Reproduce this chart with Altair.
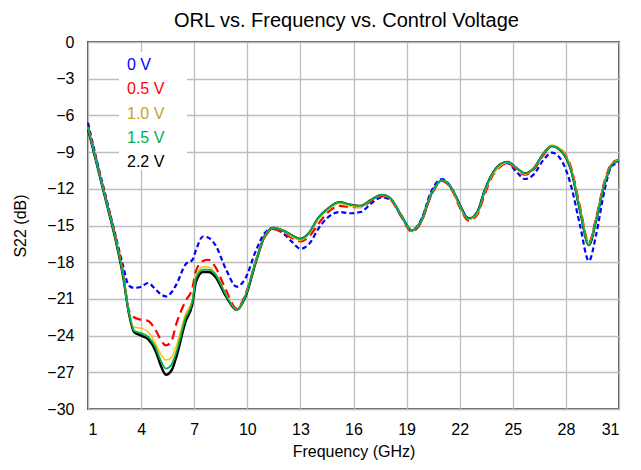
import altair as alt
import pandas as pd

FREQ = [1.0, 1.5, 2.0, 2.5, 3.0, 3.3, 3.6, 4.0, 4.4, 4.8, 5.1, 5.4, 5.7, 6.0, 6.5, 6.9,
        7.1, 7.5, 7.8, 8.2, 8.8, 9.4, 9.9, 10.5, 11.0, 11.5, 12.0, 12.5, 13.0, 13.5,
        14.0, 14.5, 15.2, 15.8, 16.4, 17.0, 17.6, 18.1, 18.7, 19.3, 19.8, 20.4, 21.0,
        21.6, 22.0, 22.5, 23.0, 23.4, 23.8, 24.3, 24.7, 25.2, 25.7, 26.2, 26.7, 27.2,
        27.8, 28.3, 28.8, 29.3, 29.7, 30.2, 30.6, 31.0]

S22_0V = [-6.6, -9.7, -12.6, -15.5, -18.4, -19.9, -20.1, -20.0, -19.7, -20.2, -20.6, -20.8,
          -20.5, -19.8, -18.2, -17.8, -17.0, -15.9, -16.0, -16.6, -18.6, -20.0, -19.3, -17.0,
          -15.6, -15.2, -15.6, -16.3, -16.9, -16.5, -15.3, -14.4, -13.9, -14.0, -13.9, -13.2,
          -12.7, -12.9, -14.2, -15.4, -14.6, -12.2, -11.2, -12.1, -13.3, -14.4, -13.9, -12.2,
          -10.9, -10.1, -9.9, -10.6, -11.2, -10.8, -9.7, -9.05, -9.8, -11.8, -15.0, -17.9,
          -15.8, -12.0, -10.1, -9.9]

S22_05V = [-6.9, -9.8, -12.7, -15.6, -19.0, -21.9, -22.5, -22.7, -22.8, -23.5, -24.3, -24.8,
           -24.5, -23.0, -21.2, -20.1, -18.7, -17.9, -17.8, -18.4, -20.3, -21.8, -20.6, -17.8,
           -15.9, -15.3, -15.6, -16.0, -16.3, -15.9, -14.9, -14.0, -13.4, -13.5, -13.5, -13.0,
           -12.6, -12.9, -14.3, -15.5, -14.8, -12.5, -11.35, -12.2, -13.5, -14.6, -14.1, -12.5,
           -11.1, -10.2, -9.9, -10.4, -10.85, -10.4, -9.3, -8.5, -8.9, -10.3, -13.5, -16.4,
           -14.4, -11.3, -9.9, -9.6]

S22_10V = [-7.0, -9.9, -12.8, -15.7, -19.1, -22.0, -23.3, -23.4, -23.7, -24.6, -25.5, -26.0,
           -25.8, -24.8, -22.3, -21.0, -19.1, -18.4, -18.4, -18.9, -20.6, -21.9, -20.7, -17.8,
           -15.8, -15.2, -15.4, -15.9, -16.2, -15.7, -14.5, -13.8, -13.2, -13.4, -13.5, -12.9,
           -12.5, -12.8, -14.2, -15.4, -14.7, -12.4, -11.3, -12.1, -13.4, -14.5, -14.0, -12.3,
           -11.0, -10.1, -9.85, -10.3, -10.8, -10.3, -9.2, -8.45, -8.9, -10.4, -13.6, -16.5,
           -14.5, -11.4, -9.95, -9.65]

S22_15V = [-7.0, -9.9, -12.8, -15.7, -19.2, -22.0, -23.6, -23.8, -24.1, -24.9, -26.0, -26.7,
           -26.4, -25.3, -22.6, -21.2, -19.3, -18.6, -18.6, -19.0, -20.7, -21.9, -20.7, -17.8,
           -15.8, -15.2, -15.4, -15.8, -16.1, -15.6, -14.4, -13.7, -13.1, -13.3, -13.4, -12.9,
           -12.5, -12.8, -14.2, -15.4, -14.7, -12.4, -11.3, -12.1, -13.3, -14.45, -13.9, -12.2,
           -10.9, -10.0, -9.8, -10.3, -10.75, -10.3, -9.2, -8.5, -9.0, -10.5, -13.8, -16.6,
           -14.6, -11.5, -10.0, -9.7]

S22_22V = [-7.1, -10.0, -12.9, -15.8, -19.3, -22.1, -23.7, -24.0, -24.3, -25.2, -26.4, -27.2,
           -26.9, -25.7, -22.9, -21.4, -19.6, -18.8, -18.8, -19.2, -20.8, -21.9, -20.8, -17.9,
           -15.8, -15.2, -15.4, -15.8, -16.1, -15.6, -14.4, -13.7, -13.1, -13.3, -13.4, -12.9,
           -12.5, -12.8, -14.2, -15.4, -14.7, -12.4, -11.3, -12.1, -13.3, -14.45, -13.9, -12.2,
           -10.9, -10.0, -9.8, -10.3, -10.75, -10.3, -9.2, -8.5, -9.0, -10.5, -13.8, -16.6,
           -14.6, -11.5, -10.0, -9.7]

SERIES = ["0 V", "0.5 V", "1.0 V", "1.5 V", "2.2 V"]
LINE_COLORS = ["#0000FF", "#FF0000", "#FFC000", "#00B050", "#000000"]
TEXT_COLORS = ["#0000FF", "#FF0000", "#C9A227", "#00B050", "#000000"]
X_TICKS = [1, 4, 7, 10, 13, 16, 19, 22, 25, 28, 31]
Y_TICKS = [-30, -27, -24, -21, -18, -15, -12, -9, -6, -3, 0]

values = {"0 V": S22_0V, "0.5 V": S22_05V, "1.0 V": S22_10V, "1.5 V": S22_15V, "2.2 V": S22_22V}
rows = []
for s in SERIES:
    for f, v in zip(FREQ, values[s]):
        rows.append({"freq": f, "s22": v, "series": s})
df = pd.DataFrame(rows)

FONT = "Liberation Sans"
AX = dict(labelFont=FONT, titleFont=FONT, labelFontSize=16,
          labelColor="#000000", titleColor="#000000", titleFontWeight="normal",
          gridColor="#BDBDBD", gridWidth=1.3, gridOpacity=1,
          grid=True, ticks=False, domain=False, format="d")

xenc = alt.X("freq:Q", scale=alt.Scale(domain=[1, 31], nice=False, zero=False),
             axis=alt.Axis(values=X_TICKS, title="Frequency (GHz)", labelPadding=12,
                           titlePadding=6, titleFontSize=16, **AX))
yenc = alt.Y("s22:Q", scale=alt.Scale(domain=[-30, 0], nice=False, zero=False),
             axis=alt.Axis(values=Y_TICKS, title="S22 (dB)", labelPadding=14,
                           titlePadding=18, titleFontSize=16, **AX))

styles = {
    "0 V": dict(strokeDash=[5, 3], strokeWidth=2.2),
    "0.5 V": dict(strokeDash=[9, 5], strokeWidth=2.2),
    "1.0 V": dict(strokeWidth=1.5),
    "1.5 V": dict(strokeWidth=1.8),
    "2.2 V": dict(strokeWidth=2.4),
}
order = ["2.2 V", "0 V", "0.5 V", "1.0 V", "1.5 V"]
layers = []
for s in order:
    c = LINE_COLORS[SERIES.index(s)]
    layers.append(
        alt.Chart(df).transform_filter(alt.datum.series == s)
        .mark_line(color=c, interpolate="monotone", **styles[s])
        .encode(x=xenc, y=yenc)
    )
lines = alt.layer(*layers)

box = alt.Chart(pd.DataFrame({"a": [0]})).mark_rect(fill="white").encode(
    x=alt.value(31), x2=alt.value(99), y=alt.value(10), y2=alt.value(128))

leg_df = pd.DataFrame({"label": SERIES, "color": TEXT_COLORS})
leg_text = alt.Chart(leg_df).mark_text(align="left", baseline="middle", fontSize=16, font=FONT).encode(
    x=alt.value(39),
    y=alt.Y("label:N", sort=SERIES, axis=None, scale=alt.Scale(range=[23, 120], padding=0)),
    color=alt.Color("color:N", scale=None),
    text="label:N",
)

chart = alt.layer(lines, box, leg_text).resolve_scale(y="independent").properties(
    width=531, height=367,
    background="white",
    autosize=alt.AutoSizeParams(type="none"),
    padding={"left": 80, "top": 34, "right": 14, "bottom": 54},
    title=alt.Title("ORL vs. Frequency vs. Control Voltage", fontSize=20, font=FONT,
                    fontWeight="normal", color="#000000", anchor="middle", dx=-7, offset=3),
).configure_view(stroke="#595959", strokeWidth=2)

chart.save("out.html", embed_options={"renderer": "svg", "actions": False})
